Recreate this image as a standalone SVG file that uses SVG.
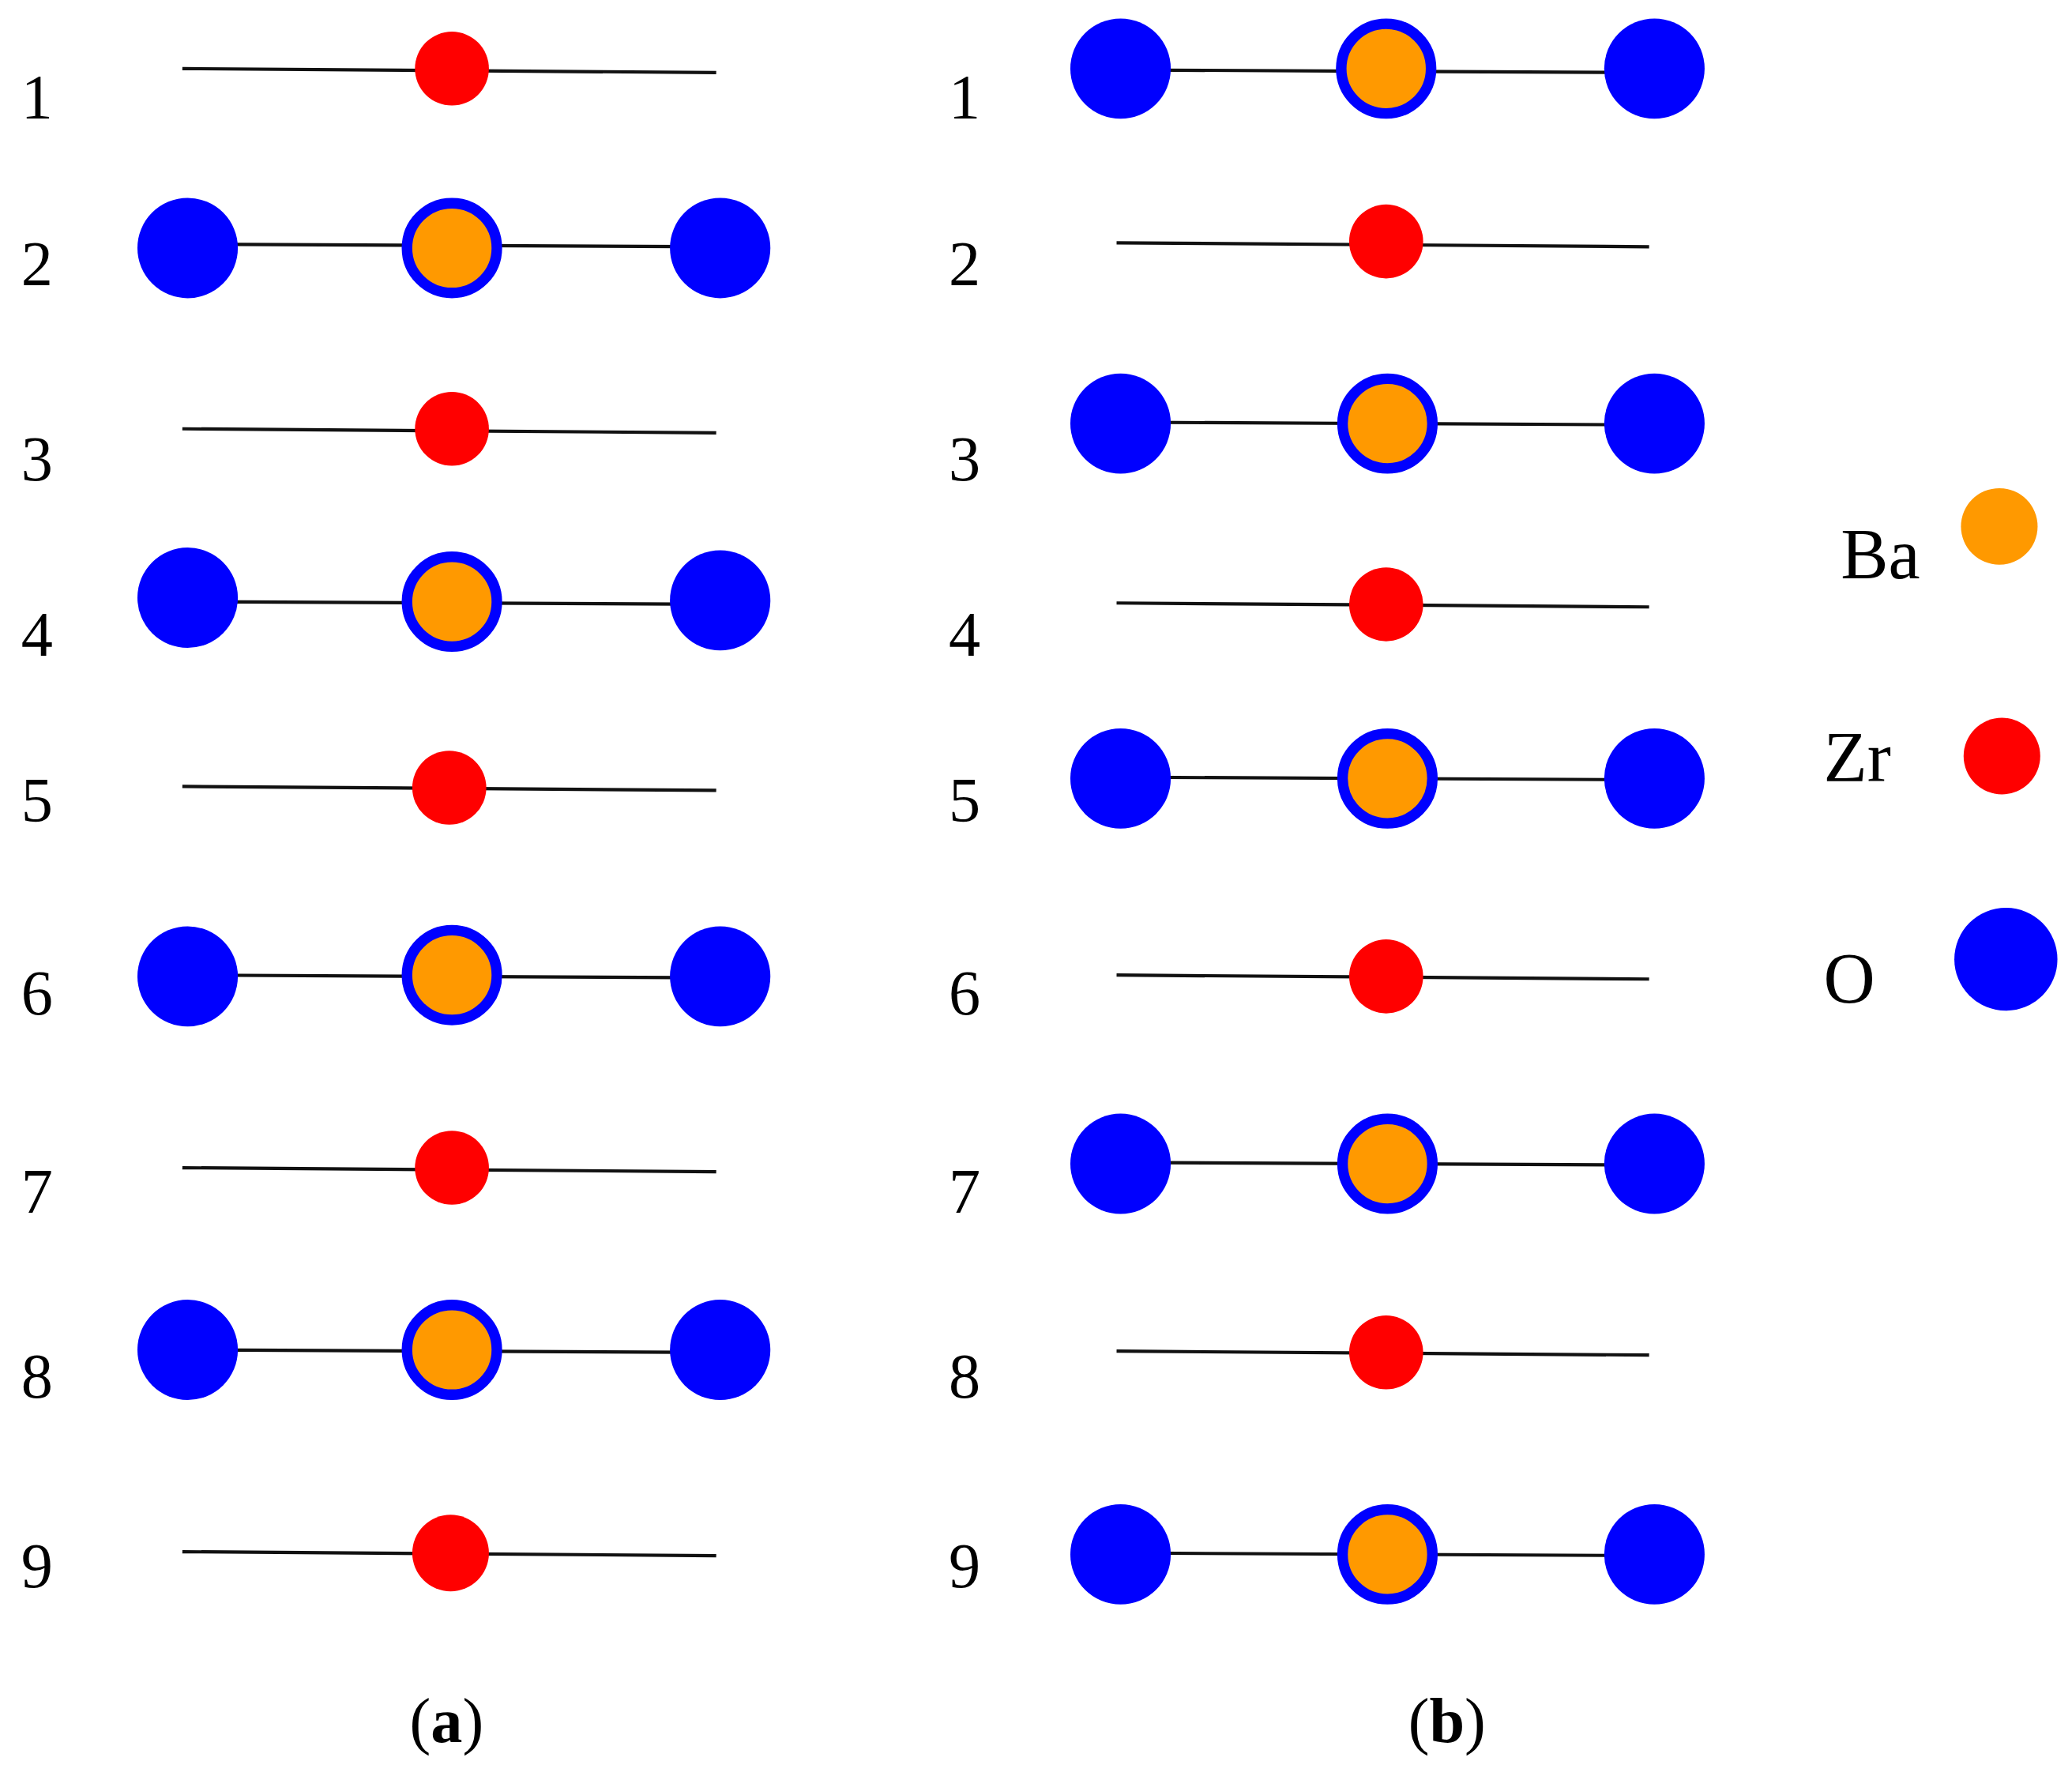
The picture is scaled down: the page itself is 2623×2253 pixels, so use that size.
<svg xmlns="http://www.w3.org/2000/svg" width="2623" height="2253" viewBox="0 0 2623 2253">
<defs>
<style>
.t{font-family:"Liberation Serif",serif;font-size:48px;fill:#000}
.b{font-weight:bold}
.ln{stroke:#111;stroke-width:2.5}
.zr{fill:#ff0000}
.o{fill:#0000ff}
.ba{fill:#ff9900;stroke:#0000ff;stroke-width:8}
</style>
</defs>
<rect width="2623" height="2253" fill="#fff"/>
<g transform="scale(1.6728,1.6701)">
<g id="connectors">
<line class="ln" x1="138" y1="52" x2="542" y2="55"/>
<line class="ln" x1="142" y1="185" x2="545" y2="187"/>
<line class="ln" x1="138" y1="325" x2="542" y2="328"/>
<line class="ln" x1="142" y1="456" x2="545" y2="458"/>
<line class="ln" x1="138" y1="596" x2="542" y2="599"/>
<line class="ln" x1="142" y1="739" x2="545" y2="741"/>
<line class="ln" x1="138" y1="885" x2="542" y2="888"/>
<line class="ln" x1="142" y1="1023" x2="545" y2="1025"/>
<line class="ln" x1="138" y1="1176" x2="542" y2="1179"/>
<line class="ln" x1="848" y1="53" x2="1252" y2="55"/>
<line class="ln" x1="845" y1="184" x2="1248" y2="187"/>
<line class="ln" x1="848" y1="320" x2="1252" y2="322"/>
<line class="ln" x1="845" y1="457" x2="1248" y2="460"/>
<line class="ln" x1="848" y1="589" x2="1252" y2="591"/>
<line class="ln" x1="845" y1="739" x2="1248" y2="742"/>
<line class="ln" x1="848" y1="881" x2="1252" y2="883"/>
<line class="ln" x1="845" y1="1024" x2="1248" y2="1027"/>
<line class="ln" x1="848" y1="1177" x2="1252" y2="1179"/>
</g>
<g id="labels-a">
<text class="t" x="16" y="90">1</text><text class="t" x="16" y="216">2</text>
<text class="t" x="16" y="364">3</text><text class="t" x="16" y="497">4</text>
<text class="t" x="16" y="623">5</text><text class="t" x="16" y="769">6</text>
<text class="t" x="16" y="919">7</text><text class="t" x="16" y="1059">8</text>
<text class="t" x="16" y="1203">9</text>
</g>
<g id="labels-b">
<text class="t" x="718" y="90">1</text><text class="t" x="718" y="216">2</text>
<text class="t" x="718" y="364">3</text><text class="t" x="718" y="497">4</text>
<text class="t" x="718" y="623">5</text><text class="t" x="718" y="769">6</text>
<text class="t" x="718" y="919">7</text><text class="t" x="718" y="1059">8</text>
<text class="t" x="718" y="1203">9</text>
</g>
<g id="panel-a">
<circle class="zr" cx="342" cy="52" r="28"/>
<circle class="o" cx="142" cy="188" r="38"/><circle class="ba" cx="342" cy="188" r="34"/><circle class="o" cx="545" cy="188" r="38"/>
<circle class="zr" cx="342" cy="325" r="28"/>
<circle class="o" cx="142" cy="453" r="38"/><circle class="ba" cx="342" cy="456" r="34"/><circle class="o" cx="545" cy="455" r="38"/>
<circle class="zr" cx="340" cy="597" r="28"/>
<circle class="o" cx="142" cy="740" r="38"/><circle class="ba" cx="342" cy="739" r="34"/><circle class="o" cx="545" cy="740" r="38"/>
<circle class="zr" cx="342" cy="885" r="28"/>
<circle class="o" cx="142" cy="1023" r="38"/><circle class="ba" cx="342" cy="1023" r="34"/><circle class="o" cx="545" cy="1023" r="38"/>
<circle class="zr" cx="341" cy="1177" r="29"/>
</g>
<g id="panel-b">
<circle class="o" cx="848" cy="52" r="38"/><circle class="ba" cx="1049" cy="52" r="34"/><circle class="o" cx="1252" cy="52" r="38"/>
<circle class="zr" cx="1049" cy="183" r="28"/>
<circle class="o" cx="848" cy="321" r="38"/><circle class="ba" cx="1050" cy="321" r="34"/><circle class="o" cx="1252" cy="321" r="38"/>
<circle class="zr" cx="1049" cy="458" r="28"/>
<circle class="o" cx="848" cy="590" r="38"/><circle class="ba" cx="1050" cy="590" r="34"/><circle class="o" cx="1252" cy="590" r="38"/>
<circle class="zr" cx="1049" cy="740" r="28"/>
<circle class="o" cx="848" cy="882" r="38"/><circle class="ba" cx="1050" cy="882" r="34"/><circle class="o" cx="1252" cy="882" r="38"/>
<circle class="zr" cx="1049" cy="1025" r="28"/>
<circle class="o" cx="848" cy="1178" r="38"/><circle class="ba" cx="1050" cy="1178" r="34"/><circle class="o" cx="1252" cy="1178" r="38"/>
</g>
<g id="legend">
<text class="t" x="1393" y="438" style="font-size:54px">Ba</text>
<circle cx="1513" cy="399" r="29" fill="#ff9900"/>
<text class="t" x="1380" y="592" style="font-size:54px">Zr</text>
<circle cx="1515" cy="573" r="29" fill="#ff0000"/>
<text class="t" x="1380" y="760" style="font-size:54px">O</text>
<circle cx="1518" cy="727" r="39" fill="#0000ff"/>
</g>
<g id="captions">
<text class="t" x="338" y="1320" text-anchor="middle">(<tspan class="b">a</tspan>)</text>
<text class="t" x="1095" y="1320" text-anchor="middle">(<tspan class="b">b</tspan>)</text>
</g>
</g>
</svg>
